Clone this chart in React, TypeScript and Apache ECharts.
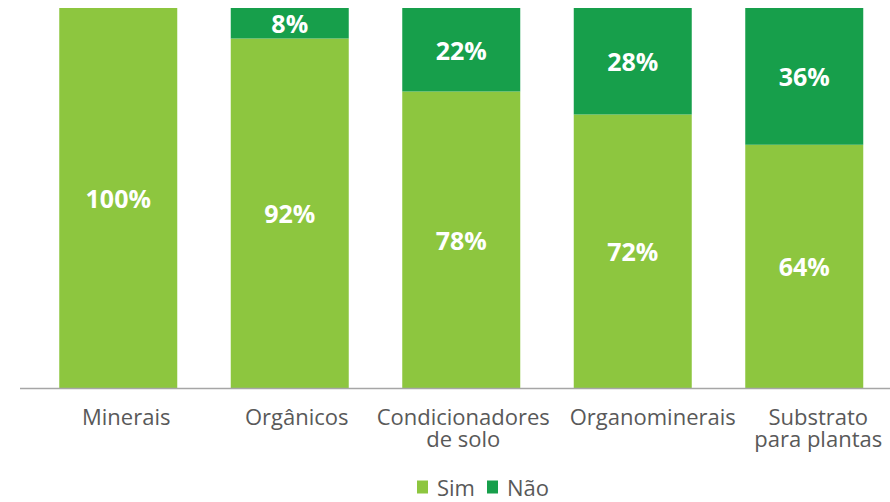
import React, { useEffect, useRef } from "react";
import * as echarts from "echarts";

const categories = ["Minerais", "Orgânicos", "Condicionadores\nde solo", "Organominerais", "Substrato\npara plantas"];
const simValues = [100, 92, 78, 72, 64];
const naoValues = [0, 8, 22, 28, 36];
const seriesNames = ["Sim", "Não"];

// horizontal nudge of each category label (px), as in the reference layout
const labelShift = [8, 7, 2, 20, 14];

export default function App() {
  const ref = useRef<HTMLDivElement>(null);
  useEffect(() => {
    const chart = echarts.init(ref.current!, null, { renderer: "svg" });
    const font = "'Open Sans'";
    const label = {
      show: true,
      position: "inside",
      color: "#ffffff",
      fontFamily: font,
      fontWeight: "bold",
      fontSize: 25,
      formatter: (p: any) => (p.value > 0 ? p.value + "%" : ""),
    };
    chart.setOption({
      animation: false,
      textStyle: { fontFamily: font },
      grid: { left: 32.5, top: 8, width: 865, height: 380, containLabel: false },
      legend: {
        top: 476,
        left: 417,
        padding: 0,
        itemWidth: 11,
        itemHeight: 13,
        itemGap: 12,
        icon: "rect",
        textStyle: { color: "#595959", fontSize: 22, lineHeight: 22, fontFamily: font, padding: [0, 0, 0, 4] },
        data: seriesNames,
      },
      xAxis: {
        type: "category",
        data: categories.map((c, i) => ({
          value: c,
          textStyle: { padding: [0, 0, 0, labelShift[i] * 2] },
        })),
        axisLine: { show: false },
        axisTick: { show: false },
        axisLabel: {
          color: "#595959",
          fontSize: 22,
          fontFamily: font,
          lineHeight: 22,
          margin: 17,
          interval: 0,
        },
      },
      yAxis: {
        type: "value",
        min: 0,
        max: 100,
        show: false,
      },
      graphic: [
        {
          type: "line",
          shape: { x1: 20, y1: 388.5, x2: 890, y2: 388.5 },
          style: { stroke: "#a6a6a6", lineWidth: 1.5 },
          z: 10,
        },
      ],
      series: [
        {
          name: seriesNames[0],
          type: "bar",
          stack: "total",
          data: simValues,
          barWidth: 118,
          itemStyle: { color: "#8dc63f" },
          label,
        },
        {
          name: seriesNames[1],
          type: "bar",
          stack: "total",
          data: naoValues,
          barWidth: 118,
          itemStyle: { color: "#179f4b" },
          label,
        },
      ],
    });
    return () => chart.dispose();
  }, []);
  return <div ref={ref} style={{ width: 890, height: 502, position: "absolute", left: 0, top: 0 }} />;
}
